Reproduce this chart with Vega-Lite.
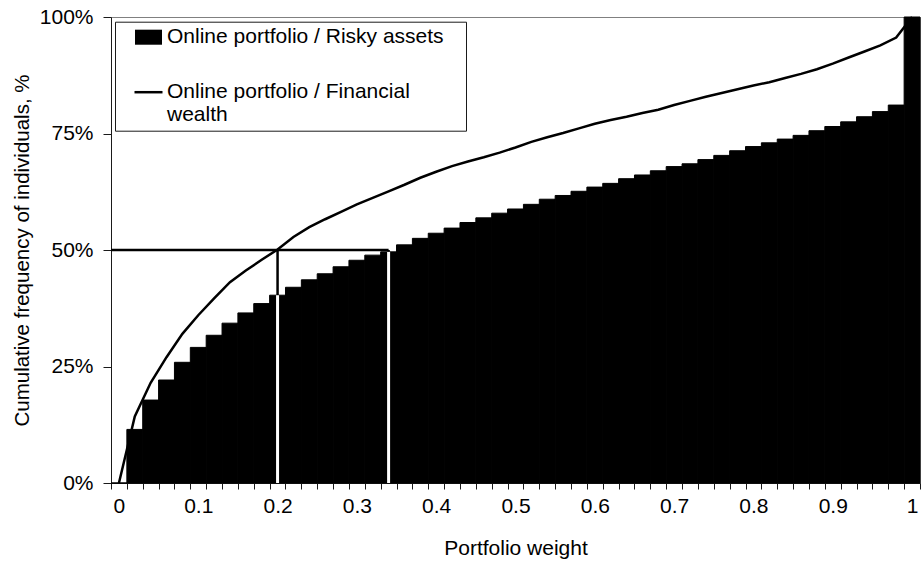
{
  "$schema": "https://vega.github.io/schema/vega-lite/v6.json",
  "width": 809,
  "height": 466,
  "autosize": {"type": "none"},
  "padding": {"left": 111, "top": 17, "right": 2, "bottom": 81},
  "background": "white",
  "config": {
    "view": {"stroke": "#808080", "strokeWidth": 1},
    "font": "Liberation Sans",
    "axis": {
      "grid": false,
      "labelFont": "Liberation Sans",
      "titleFont": "Liberation Sans",
      "labelColor": "black",
      "titleColor": "black",
      "titleFontWeight": "normal",
      "domainColor": "#1a1a1a",
      "tickColor": "#1a1a1a"
    }
  },
  "datasets": {
    "dist": [
      {"x": 0, "risky": 0, "fin": 0},
      {"x": 0.02, "risky": 11.5, "fin": 14.3},
      {"x": 0.04, "risky": 17.8, "fin": 21.5},
      {"x": 0.06, "risky": 22.1, "fin": 27.0},
      {"x": 0.08, "risky": 25.9, "fin": 32.0},
      {"x": 0.1, "risky": 29.1, "fin": 36.0},
      {"x": 0.12, "risky": 31.7, "fin": 39.6},
      {"x": 0.14, "risky": 34.3, "fin": 43.1},
      {"x": 0.16, "risky": 36.5, "fin": 45.6},
      {"x": 0.18, "risky": 38.5, "fin": 47.9},
      {"x": 0.2, "risky": 40.3, "fin": 50.1},
      {"x": 0.22, "risky": 42.0, "fin": 52.8},
      {"x": 0.24, "risky": 43.6, "fin": 54.9},
      {"x": 0.26, "risky": 44.9, "fin": 56.6},
      {"x": 0.28, "risky": 46.4, "fin": 58.2},
      {"x": 0.3, "risky": 47.8, "fin": 59.8},
      {"x": 0.32, "risky": 48.9, "fin": 61.2},
      {"x": 0.34, "risky": 49.6, "fin": 62.6},
      {"x": 0.36, "risky": 51.1, "fin": 64.0},
      {"x": 0.38, "risky": 52.5, "fin": 65.5},
      {"x": 0.4, "risky": 53.6, "fin": 66.8},
      {"x": 0.42, "risky": 54.7, "fin": 68.0},
      {"x": 0.44, "risky": 55.9, "fin": 69.0},
      {"x": 0.46, "risky": 56.9, "fin": 69.9},
      {"x": 0.48, "risky": 57.9, "fin": 70.9},
      {"x": 0.5, "risky": 58.8, "fin": 72.0},
      {"x": 0.52, "risky": 59.8, "fin": 73.2},
      {"x": 0.54, "risky": 60.9, "fin": 74.2},
      {"x": 0.56, "risky": 61.7, "fin": 75.1},
      {"x": 0.58, "risky": 62.6, "fin": 76.1},
      {"x": 0.6, "risky": 63.5, "fin": 77.1},
      {"x": 0.62, "risky": 64.3, "fin": 77.9},
      {"x": 0.64, "risky": 65.3, "fin": 78.6},
      {"x": 0.66, "risky": 66.1, "fin": 79.4},
      {"x": 0.68, "risky": 67.0, "fin": 80.1},
      {"x": 0.7, "risky": 67.9, "fin": 81.1},
      {"x": 0.72, "risky": 68.5, "fin": 82.0},
      {"x": 0.74, "risky": 69.4, "fin": 82.9},
      {"x": 0.76, "risky": 70.3, "fin": 83.7},
      {"x": 0.78, "risky": 71.3, "fin": 84.5},
      {"x": 0.8, "risky": 72.2, "fin": 85.3},
      {"x": 0.82, "risky": 73.0, "fin": 86.0},
      {"x": 0.84, "risky": 73.8, "fin": 86.9},
      {"x": 0.86, "risky": 74.6, "fin": 87.8},
      {"x": 0.88, "risky": 75.6, "fin": 88.8},
      {"x": 0.9, "risky": 76.5, "fin": 90.0},
      {"x": 0.92, "risky": 77.5, "fin": 91.3},
      {"x": 0.94, "risky": 78.6, "fin": 92.6},
      {"x": 0.96, "risky": 79.7, "fin": 93.9},
      {"x": 0.98, "risky": 81.1, "fin": 95.6},
      {"x": 1, "risky": 100, "fin": 100}
    ],
    "medians": [
      {"x": 0.2, "base": 0, "level": 50, "bar": 40.3},
      {"x": 0.34, "base": 0, "level": 50, "bar": 49.6}
    ],
    "hline": [
      {"from": 0, "to": 0.34, "level": 50}
    ]
  },
  "data": {"name": "dist"},
  "layer": [
    {
      "mark": {"type": "bar", "stroke": "black", "strokeWidth": 1},
      "encoding": {
        "x": {
          "field": "x",
          "type": "ordinal",
          "scale": {"paddingInner": 0, "paddingOuter": 0},
          "axis": {
            "title": "Portfolio weight",
            "tickBand": "extent",
            "labelAngle": 0,
            "labelExpr": "round(datum.value * 50) % 5 === 0 ? datum.label : ''",
            "labelOverlap": false,
            "labelFontSize": 21,
            "titleFontSize": 21,
            "tickSize": 6,
            "labelPadding": 6,
            "titlePadding": 21
          }
        },
        "y": {
          "field": "risky",
          "type": "quantitative",
          "scale": {"domain": [0, 100], "nice": false},
          "axis": {
            "title": "Cumulative frequency of individuals, %",
            "values": [0, 25, 50, 75, 100],
            "labelExpr": "datum.value + '%'",
            "labelFontSize": 21,
            "titleFontSize": 20.5,
            "tickSize": 8,
            "labelPadding": 10,
            "titlePadding": 7
          }
        },
        "color": {
          "datum": "Online portfolio / Risky assets",
          "type": "nominal",
          "scale": {
            "domain": ["Online portfolio / Risky assets", "Online portfolio / Financial wealth"],
            "range": ["black", "black"]
          },
          "legend": {
            "orient": "none",
            "legendX": 4,
            "legendY": 4.7,
            "title": " ",
            "titleOrient": "right",
            "titlePadding": 17,
            "titleFontSize": 21,
            "titleFont": "Liberation Sans",
            "strokeColor": "#1a1a1a",
            "fillColor": "white",
            "padding": 5,
            "labelFont": "Liberation Sans",
            "labelFontSize": 21,
            "labelColor": "black",
            "labelLimit": 800,
            "symbolSize": 256,
            "symbolOffset": 18,
            "labelOffset": 8,
            "rowPadding": 33,
            "labelExpr": "datum.value === 'Online portfolio / Financial wealth' ? ['Online portfolio / Financial', 'wealth'] : datum.value",
            "encoding": {
              "symbols": {
                "shape": {"value": {"signal": "datum.value === 'Online portfolio / Risky assets' ? 'M-1.69,-0.94H1.69V0.94H-1.69Z' : 'M-1.75,0H1.75'"}},
                "fill": {"value": {"signal": "datum.value === 'Online portfolio / Risky assets' ? 'black' : 'transparent'"}},
                "stroke": {"value": "black"},
                "strokeWidth": {"value": {"signal": "datum.value === 'Online portfolio / Risky assets' ? 0 : 2.5"}}
              }
            }
          }
        }
      }
    },
    {
      "data": {"name": "medians"},
      "mark": {"type": "rule", "color": "black", "strokeWidth": 2.5},
      "encoding": {
        "x": {"field": "x", "type": "ordinal"},
        "y": {"field": "base", "type": "quantitative"},
        "y2": {"field": "level"}
      }
    },
    {
      "data": {"name": "medians"},
      "mark": {"type": "rule", "color": "white", "strokeWidth": 3},
      "encoding": {
        "x": {"field": "x", "type": "ordinal"},
        "y": {"field": "base", "type": "quantitative"},
        "y2": {"field": "bar"}
      }
    },
    {
      "data": {"name": "hline"},
      "mark": {"type": "rule", "color": "black", "strokeWidth": 2.5},
      "encoding": {
        "x": {"field": "from", "type": "ordinal", "bandPosition": 0},
        "x2": {"field": "to"},
        "y": {"field": "level", "type": "quantitative"}
      }
    },
    {
      "mark": {"type": "line", "strokeWidth": 2.5},
      "encoding": {
        "x": {"field": "x", "type": "ordinal"},
        "y": {"field": "fin", "type": "quantitative"},
        "color": {"datum": "Online portfolio / Financial wealth", "type": "nominal"}
      }
    }
  ]
}
